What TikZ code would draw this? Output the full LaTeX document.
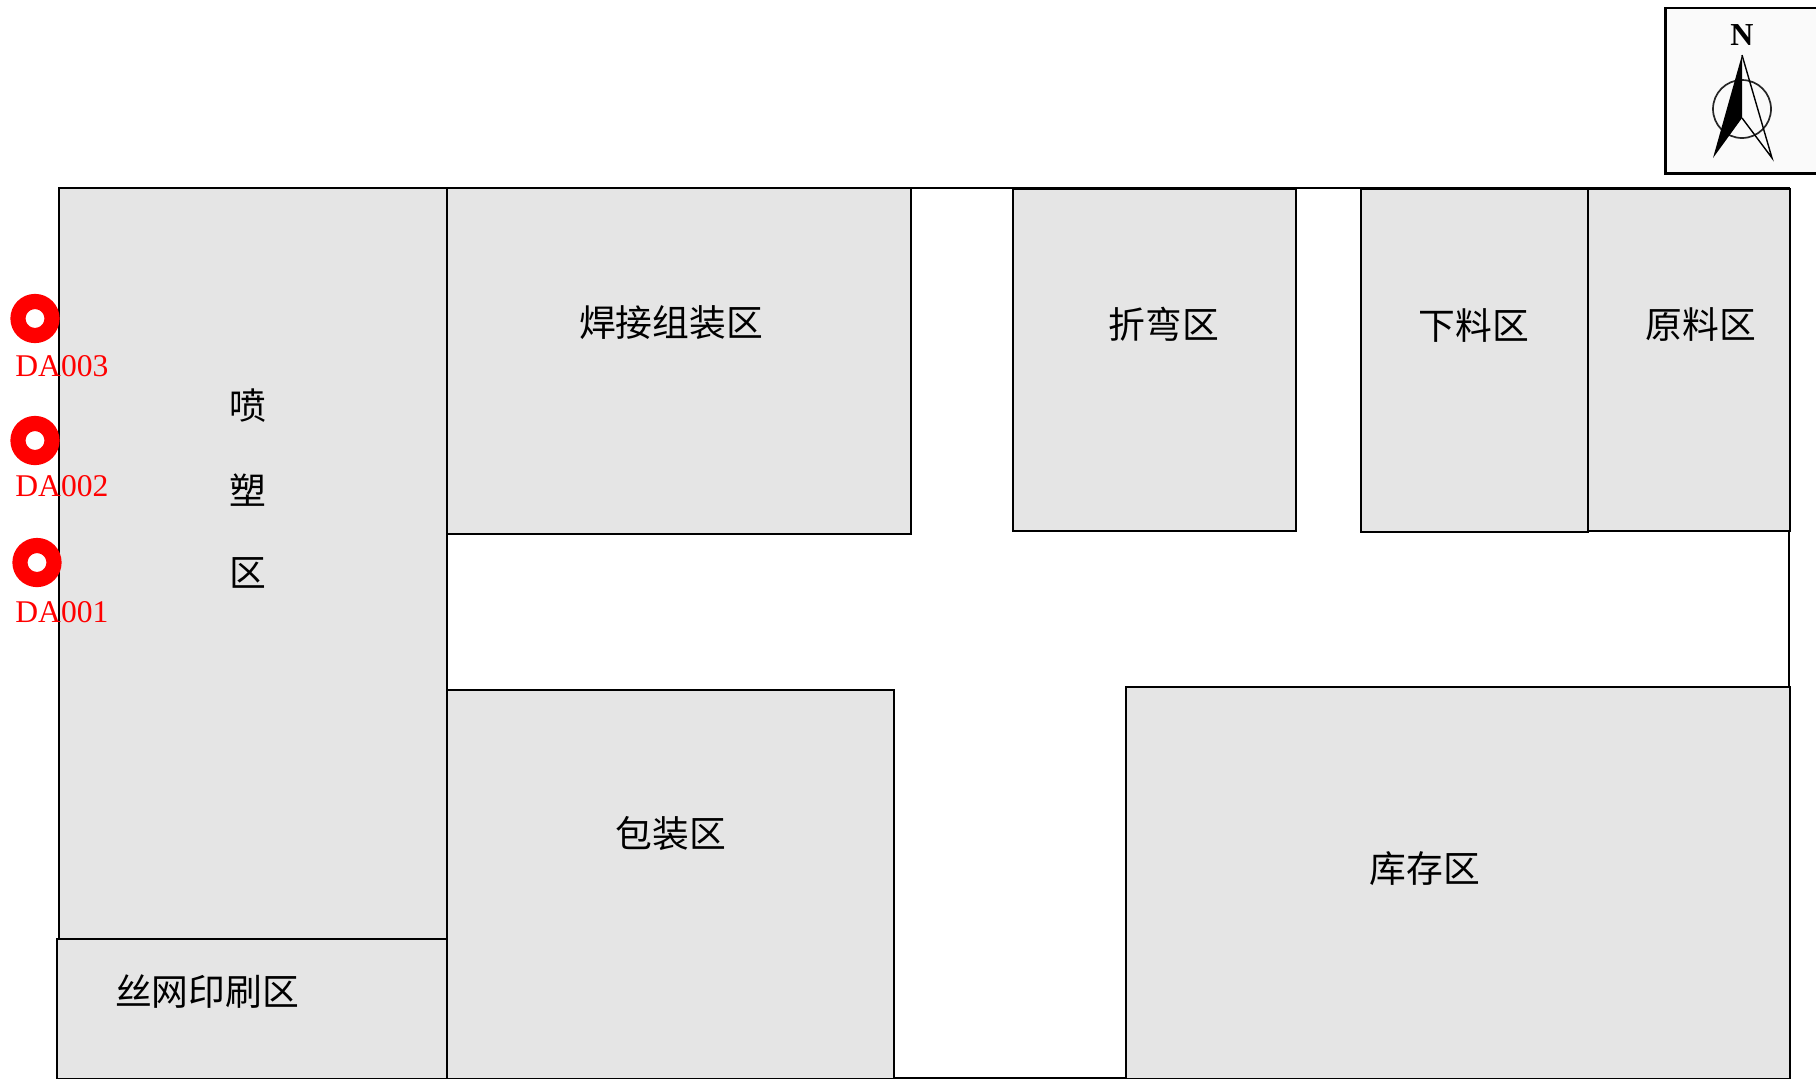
\documentclass[tikz,border=0pt]{standalone}
\usepackage{fontspec}
\setmainfont{Liberation Serif}
\newfontfamily\cjk{Noto Sans CJK SC}
\tikzset{
  x=0.5pt,y=-0.5pt,
  room/.style={draw=black,fill=roomgray,line width=0.85pt},
  wall/.style={draw=black,line width=1pt},
  zone/.style={font=\cjk\fontsize{18.4}{18.4}\selectfont,text=black,inner sep=0pt},
  ring/.style={draw=red,line width=7.6pt},
  tag/.style={font=\fontsize{15.8}{16}\selectfont,text=red,inner sep=0pt,anchor=west},
}
\definecolor{roomgray}{HTML}{E5E5E5}
\begin{document}
\begin{tikzpicture}
\useasboundingbox (0,0) rectangle (1816,1078);
\clip (0,0) rectangle (1816,1078);
% outline
\draw[wall] (447,188) -- (1789,188) -- (1789,687);
\draw[wall] (447,534) -- (447,690);
\draw[wall] (894,1077.5) -- (1126,1077.5);
% rooms
\draw[room] (59,188) rectangle (447,939);
\draw[room] (57,939) rectangle (447.5,1079);
\draw[room] (447,188) rectangle (911,534);
\draw[room] (1013,189) rectangle (1296,531);
\draw[room] (1361,189) rectangle (1588,532);
\draw[room] (1588,189) rectangle (1790,531);
\draw[room] (447,690) rectangle (894,1079);
\draw[room] (1126,687) rectangle (1790,1079);
% labels
\node[zone] (weld) at (671,323) {焊接组装区};
\node[zone] (bend) at (1164,324) {折弯区};
\node[zone] (cut) at (1474,325) {下料区};
\node[zone] (raw) at (1701,324) {原料区};
\node[zone] (spray1) at (248,406) {喷};
\node[zone] (spray2) at (248,490) {塑};
\node[zone] (spray3) at (248,573) {区};
\node[zone] (pack) at (671,834) {包装区};
\node[zone] (store) at (1425,869) {库存区};
\node[zone] (print) at (207,992) {丝网印刷区};
% monitoring points
\draw[ring] (35,318.5) circle (17);
\draw[ring] (35,440.5) circle (17);
\draw[ring] (37,562.5) circle (17);
\node[tag] (da3) at (15,366) {DA003};
\node[tag] (da2) at (15,486) {DA002};
\node[tag] (da1) at (15,612) {DA001};
% compass
\draw[fill=black!2,line width=1.25pt] (1665.5,8) rectangle (1830,173.5);
\node[inner sep=0pt,font=\bfseries\fontsize{16}{16}\selectfont] (north) at (1742,35) {N};
\draw[line width=0.85pt,black!85] (1742,109) circle (29);
\draw[line width=0.7pt] (1742,55) -- (1772,158) -- (1742,118);
\fill (1742,55) -- (1713,158) -- (1742,118) -- cycle;
\end{tikzpicture}
\end{document}
